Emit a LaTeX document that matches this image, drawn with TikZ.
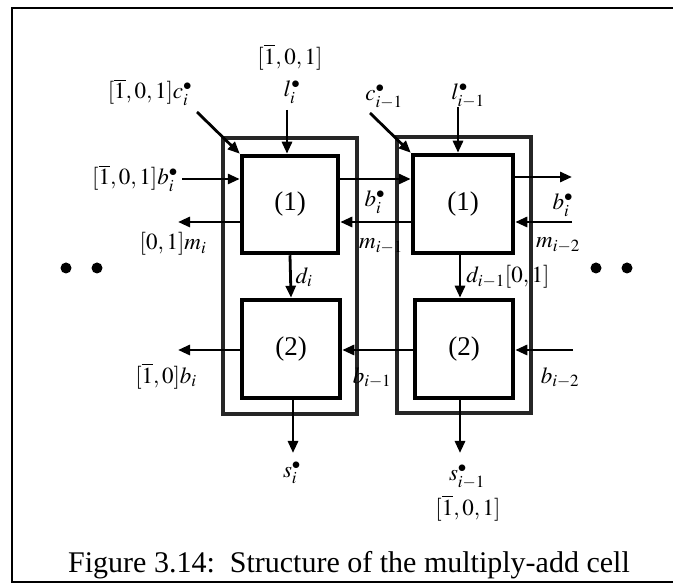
\documentclass[tikz,border=0pt]{standalone}
\usepackage{mathptmx}
\usepackage{fontspec}
\setmainfont{Liberation Serif}
\usetikzlibrary{arrows.meta}
\tikzset{
  blk/.style={draw=black, line width=4.5pt, minimum width=#1, inner sep=0pt, font=\fontsize{27}{30}\selectfont},
  cellframe/.style={draw=black!85, line width=3.5pt},
  conn/.style={line width=2.8pt, -{Triangle[length=12pt,width=10pt]}},
  lbl/.style={inner sep=0pt, font=\fontsize{23}{27}\selectfont},
  frameline/.style={line width=2.4pt},
  blob/.style={circle, fill=black, inner sep=0pt, minimum size=11pt}
}
\begin{document}
\begin{tikzpicture}[x=1pt,y=-1pt]
\useasboundingbox (0,0) rectangle (673,585);
% outer frame
\draw[frameline] (675,8) -- (12,8) -- (12,582) -- (675,582);
% cell frames
\draw[cellframe] (223,138) rectangle (357,414);
\draw[cellframe] (397,137) rectangle (531,413);
% blocks
\node[blk=96pt, minimum height=97pt] (a1) at (290,204.5) {(1)};
\node[blk=98pt, minimum height=98pt] (a2) at (291,349) {(2)};
\node[blk=100pt, minimum height=98pt] (b1) at (463,204) {(1)};
\node[blk=98pt, minimum height=98pt] (b2) at (464,349) {(2)};
% free-end coordinates
\coordinate (liS) at (287,110);
\coordinate (ciS) at (197,112);
\coordinate (biS) at (182,179);
\coordinate (miE) at (178,222);
\coordinate (boE) at (178,350);
\coordinate (siE) at (293,453);
\coordinate (lmS) at (458,107);
\coordinate (cmS) at (370,113);
\coordinate (brE) at (572,177);
\coordinate (mrS) at (572,222);
\coordinate (b2S) at (573,350);
\coordinate (smE) at (460,453);
% connectors, cell i
\draw[conn] (liS) -- (liS |- a1.north);
\draw[conn] (ciS) -- (a1.north west);
\draw[conn] (biS) -- (biS -| a1.west);
\draw[conn] (miE -| a1.west) -- (miE);
\draw[conn] (a1.south) -- (a2.north);
\draw[conn] (boE -| a2.west) -- (boE);
\draw[conn] (siE |- a2.south) -- (siE);
% between cells
\draw[conn] (biS -| a1.east) -- (biS -| b1.west);
\draw[conn] (miE -| b1.west) -- (miE -| a1.east);
\draw[conn] (boE -| b2.west) -- (boE -| a2.east);
% connectors, cell i-1
\draw[conn] (lmS) -- (lmS |- b1.north);
\draw[conn] (cmS) -- (b1.north west);
\draw[conn] (smE |- b1.south) -- (smE |- b2.north);
\draw[conn] (brE -| b1.east) -- (brE);
\draw[conn] (mrS) -- (mrS -| b1.east);
\draw[conn] (b2S) -- (b2S -| b2.east);
\draw[conn] (smE |- b2.south) -- (smE);
% labels
\node[lbl] (t1) at (290,57) {$[\overline{1},0,1]$};
\node[lbl] (t2) at (292,92) {$l_i^{\bullet}$};
\node[lbl] (t3) at (150,92) {$[\overline{1},0,1]c_i^{\bullet}$};
\node[lbl] (t4) at (135,178) {$[\overline{1},0,1]b_i^{\bullet}$};
\node[lbl] (t5) at (173,244) {$[0,1]m_i$};
\node[lbl] (t6) at (166,376) {$[\overline{1},0]b_i$};
\node[lbl] (t7) at (304,277) {$d_i$};
\node[lbl] (t8) at (292,473) {$s_i^{\bullet}$};
\node[lbl] (t9) at (375,202) {$b_i^{\bullet}$};
\node[lbl] (t10) at (381,246) {$m_{i-1}$};
\node[lbl] (t11) at (372,378) {$b_{i-1}$};
\node[lbl] (t12) at (384,97) {$c_{i-1}^{\bullet}$};
\node[lbl] (t13) at (468,96) {$l_{i-1}^{\bullet}$};
\node[lbl] (t14) at (508,277) {$d_{i-1}[0,1]$};
\node[lbl] (t15) at (563,205) {$b_i^{\bullet}$};
\node[lbl] (t16) at (558,245) {$m_{i-2}$};
\node[lbl] (t17) at (560,378) {$b_{i-2}$};
\node[lbl] (t18) at (467,477) {$s_{i-1}^{\bullet}$};
\node[lbl] (t19) at (468,508) {$[\overline{1},0,1]$};
% dots
\node[blob] (d1) at (66,268) {};
\node[blob] (d2) at (97,268) {};
\node[blob] (d3) at (596,268) {};
\node[blob] (d4) at (627,268) {};
% caption
\node[inner sep=0pt, font=\fontsize{30}{34}\selectfont] (cap) at (349,565) {Figure 3.14:\ \ Structure of the multiply-add cell};
\end{tikzpicture}
\end{document}
